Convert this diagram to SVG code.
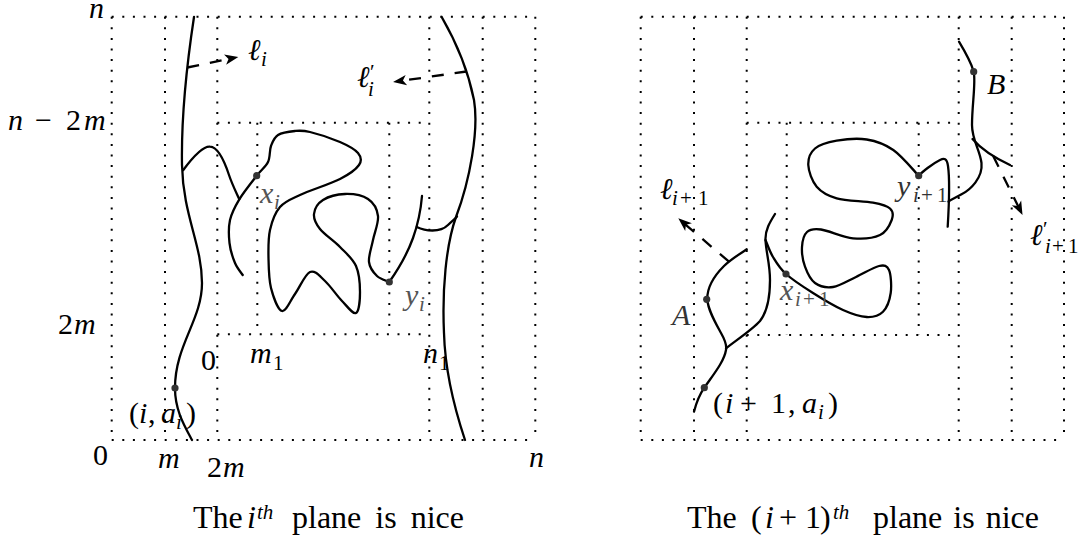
<svg xmlns="http://www.w3.org/2000/svg" width="1081" height="543" viewBox="0 0 1081 543">
<defs>
<marker id="ah" viewBox="0 0 20 20" refX="10" refY="10" markerWidth="20" markerHeight="20" markerUnits="userSpaceOnUse" orient="auto">
<path d="M15,10 L1.5,4.8 L5,10 L1.5,15.2 Z" fill="#000"/>
</marker>
</defs>
<rect width="1081" height="543" fill="#fff"/>
<g id="grid-left" fill="none" stroke="#000" stroke-width="2" stroke-dasharray="2 8.6">
<path d="M111.7,16.7 H535.3 M111.7,440 H535.3 M111.7,16.7 V440 M165,16.7 V440 M217.3,16.7 V440 M429.3,16.7 V440 M482.7,16.7 V440 M535.3,16.7 V440 M217.3,122.7 H429.3 M217.3,334.3 H429.3 M257.3,122.7 V334.3 M389.3,122.7 V334.3"/>
</g>
<g id="grid-right" fill="none" stroke="#000" stroke-width="2" stroke-dasharray="2 8.6">
<path d="M640.7,16.7 H1064 M640.7,440 H1064 M640.7,16.7 V440 M694,16.7 V440 M746.7,16.7 V440 M958.7,16.7 V440 M1011.7,16.7 V440 M1064,16.7 V440 M746.7,122.7 H958.7 M746.7,335 H958.7 M786.7,122.7 V335 M918.7,122.7 V335"/>
</g>
<g id="connectors" fill="none" stroke="#000" stroke-width="2.3" stroke-linecap="round" stroke-linejoin="round">
<path id="L1" d="M194,17 C189,50 181,110 182,165 C183,215 202,245 202,283 C202,320 175,345 175,388 C175,410 184,425 192,440"/>
<path id="R1" d="M441.7,17 C455,40 468,70 474,100 C479,130 470,180 456,217 C446,245 442,290 444,333 C445,370 455,410 465,440"/>
<path id="B1" d="M183.3,170 C190,161 202,146 210,146.7 C218,147 224,160 229,175 C232,184 236,192 239.3,199.3"/>
<path id="Cx" d="M242.7,275 C241.4,273 237.2,268.3 235,263 C232.8,257.7 230.3,250.2 229.5,243 C228.7,235.8 228.4,227.3 230,220 C231.6,212.7 234.9,206.7 239.3,199.3 C243.8,191.9 251.9,181.9 256.7,175.7 C261.5,169.5 265.6,167 268,162 C270.4,157 269.3,150.5 271,146 C272.7,141.5 274,137.5 278,135 C282,132.5 289.7,131.5 295,131 C300.3,130.5 302.5,130.2 310,132 C317.5,133.8 332,138.5 340,142 C348,145.5 354.8,149.2 358,153 C361.2,156.8 362,160.7 359,165 C356,169.3 349.8,174 340,179 C330.2,184 310,190.3 300,195 C290,199.7 285,201.2 280,207 C275,212.8 271.9,221.5 270,230 C268.1,238.5 268.3,248.3 268.5,258 C268.7,267.7 268.8,279.2 271,288 C273.3,296.8 278,310 282,311 C286,312 290.3,300.5 295,294 C299.7,287.5 305,274.2 310,272 C315,269.8 319.7,276.2 325,281 C330.3,285.8 336.8,295.7 342,301 C347.2,306.3 353,314.5 356,313 C359,311.5 360,299.8 360,292 C360,284.2 359.3,273.5 356,266 C352.7,258.5 346,253.2 340,247 C334,240.8 324.3,234.5 320,229 C315.7,223.5 313.5,218.8 314,214 C314.5,209.2 317.8,203.3 323,200 C328.2,196.7 337.5,194.2 345,194 C352.5,193.8 362.5,195.3 368,199 C373.5,202.7 377.2,209.2 378,216 C378.8,222.8 374.5,232.3 373,240 C371.5,247.7 368.3,256 369,262 C369.7,268 373.6,272.7 377,276 C380.4,279.3 387.3,281 389.3,282"/>
<path id="Yi" d="M389.3,282 C397,271 408,252 413,238 C418,224 421,208 422,196"/>
<path id="Yb" d="M416.7,227 C425,231 440,233 448,225 C452,221 455,219 457,216.5"/>
<path id="A" d="M746.7,249.3 C738,255 730,260 724,266 C715,275 707,287 707.3,299.3 C708,310 715,322 721,333 C725,340 727,345 726,350 C724,362 713,375 704.3,387.7 C700,394 696,404 694,411.7"/>
<path id="T" d="M775,214 C770,222 765,230 765.5,240 C766,252 770,264 770,280 C770,298 767,312 760,321 C753,329 738,339 726,348.3"/>
<path id="Sn" d="M765.5,240 C766.75,242.83 769.58,251.33 773,257 C776.42,262.67 779.33,268 786,274 C792.67,280 803.5,287 813,293 C822.5,299 834.05,306 843,310 C851.95,314 860.03,316.72 866.7,317 C873.37,317.28 879,315.7 883,311.7 C887,307.7 889.7,299.95 890.7,293 C891.7,286.05 890.95,274.5 889,270 C887.05,265.5 884.5,264.83 879,266 C873.5,267.17 863.67,273.5 856,277 C848.33,280.5 839.83,286 833,287 C826.17,288 819.67,286.38 815,283 C810.33,279.62 807.17,272.7 805,266.7 C802.83,260.7 801.67,252.78 802,247 C802.33,241.22 803.83,234.92 807,232 C810.17,229.08 813.33,228.45 821,229.5 C828.67,230.55 843.17,237.38 853,238.3 C862.83,239.22 873.55,238.05 880,235 C886.45,231.95 890.03,224.42 891.7,220 C893.37,215.58 893.12,211.38 890,208.5 C886.88,205.62 881.88,204.4 873,202.7 C864.12,201 846.08,200.97 836.7,198.3 C827.32,195.63 821.43,192.25 816.7,186.7 C811.97,181.15 808.58,171.37 808.3,165 C808.02,158.63 810.27,152.55 815,148.5 C819.73,144.45 828.08,142.2 836.7,140.7 C845.32,139.2 857.27,137.95 866.7,139.5 C876.13,141.05 884.63,143.97 893.3,150 C901.97,156.03 914.47,171.42 918.7,175.7"/>
<path id="Yt" d="M918.7,175.7 C922,172 932,164 940,160 C944,158 947,158 948,166 C950,180 949,205 947.7,226.7"/>
<path id="Bc" d="M959,41.7 C964,50 971,62 973.7,71.7 C976,82 972,105 972,125 C972,140 980,150 981.5,163 C983,178 970,190 962,194 C957,197 952,199 948.5,201.5"/>
<path id="Bb" d="M972.5,139 C982,150 995,158 1010,165"/>
<g stroke-linecap="butt" stroke-dasharray="12 11">
<path id="li" d="M187.3,67.5 L233.4,58" marker-end="url(#ah)"/>
<path id="lpi" d="M466.5,71.5 L398,81.3" marker-end="url(#ah)"/>
<path id="li1" d="M729,261.7 L682.1,221.6" marker-end="url(#ah)"/>
<path id="lpi1" d="M993.2,156.1 L1020.3,210.5" marker-end="url(#ah)"/>
</g>
</g>
<g id="node-xi"><circle fill="#333" cx="256.7" cy="175.7" r="3.6"/><text font-family="Liberation Serif" font-size="30" font-style="italic" fill="#555"><tspan x="260" y="203">x</tspan><tspan font-size="21" x="274" y="209">i</tspan></text></g>
<g id="node-yi"><circle fill="#333" cx="389.3" cy="282" r="3.6"/><text font-family="Liberation Serif" font-size="30" font-style="italic" fill="#555"><tspan x="405" y="305">y</tspan><tspan font-size="21" x="419" y="311">i</tspan></text></g>
<g id="node-iai"><circle fill="#333" cx="175" cy="388" r="3.6"/><text font-family="Liberation Serif" font-size="30"><tspan x="129" y="423">(</tspan><tspan font-style="italic" x="139" y="423">i</tspan><tspan x="148" y="423">,</tspan><tspan font-style="italic" x="161" y="423">a</tspan><tspan font-style="italic" font-size="21" x="176" y="429">i</tspan><tspan x="186" y="423">)</tspan></text></g>
<g id="node-A"><circle fill="#333" cx="706.7" cy="299.3" r="3.6"/><text font-family="Liberation Serif" font-size="30" font-style="italic" fill="#333" x="672" y="325">A</text></g>
<g id="node-i1ai"><circle fill="#333" cx="704.3" cy="387.7" r="3.6"/><text font-family="Liberation Serif" font-size="30"><tspan x="713" y="413">(</tspan><tspan font-style="italic" x="725" y="413">i</tspan><tspan x="740" y="413">+</tspan><tspan x="771" y="413">1</tspan><tspan x="788" y="413">,</tspan><tspan font-style="italic" x="802" y="413">a</tspan><tspan font-style="italic" font-size="21" x="818" y="419">i</tspan><tspan x="828" y="413">)</tspan></text></g>
<g id="node-xi1"><circle fill="#333" cx="786" cy="274" r="3.6"/><text font-family="Liberation Serif" font-size="30" fill="#555"><tspan font-style="italic" x="780" y="300">x</tspan><tspan font-style="italic" font-size="21" x="795" y="306">i</tspan><tspan font-size="21" x="803" y="306">+</tspan><tspan font-size="21" x="819" y="306">1</tspan></text></g>
<g id="node-yi1"><circle fill="#333" cx="918.7" cy="175.7" r="3.6"/><text font-family="Liberation Serif" font-size="30" fill="#333"><tspan font-style="italic" x="897" y="196">y</tspan><tspan font-style="italic" font-size="21" x="913" y="202">i</tspan><tspan font-size="21" x="921" y="202">+</tspan><tspan font-size="21" x="937" y="202">1</tspan></text></g>
<g id="node-B"><circle fill="#333" cx="973.7" cy="71.7" r="3.6"/><text font-family="Liberation Serif" font-size="30" font-style="italic" x="987" y="94">B</text></g>
<g id="labels">
<text font-family="Liberation Serif" font-size="30" font-style="italic"><tspan x="248" y="60">&#8467;</tspan><tspan font-size="21" x="261" y="66">i</tspan></text>
<text font-family="Liberation Serif" font-size="30"><tspan font-style="italic" x="357" y="87">&#8467;</tspan><tspan font-size="21" x="370" y="79">&#8242;</tspan><tspan font-style="italic" font-size="21" x="368" y="96">i</tspan></text>
<text font-family="Liberation Serif" font-size="30"><tspan font-style="italic" x="660" y="199">&#8467;</tspan><tspan font-style="italic" font-size="21" x="672" y="205">i</tspan><tspan font-size="21" x="680" y="205">+</tspan><tspan font-size="21" x="698" y="205">1</tspan></text>
<text font-family="Liberation Serif" font-size="30"><tspan font-style="italic" x="1030" y="245">&#8467;</tspan><tspan font-size="21" x="1043" y="236">&#8242;</tspan><tspan font-style="italic" font-size="21" x="1045" y="253">i</tspan><tspan font-size="21" x="1052" y="253">+</tspan><tspan font-size="21" x="1068" y="253">1</tspan></text>
<text font-family="Liberation Serif" font-size="30" font-style="italic" x="89" y="18">n</text>
<text font-family="Liberation Serif" font-size="30"><tspan font-style="italic" x="8" y="130">n</tspan><tspan x="35" y="130">&#8722;</tspan><tspan x="66" y="130">2</tspan><tspan font-style="italic" x="84" y="130">m</tspan></text>
<text font-family="Liberation Serif" font-size="30"><tspan x="58" y="334">2</tspan><tspan font-style="italic" x="74" y="334">m</tspan></text>
<text font-family="Liberation Serif" font-size="30" x="93" y="465">0</text>
<text font-family="Liberation Serif" font-size="30" font-style="italic" x="158" y="468">m</text>
<text font-family="Liberation Serif" font-size="30"><tspan x="207" y="477">2</tspan><tspan font-style="italic" x="223" y="477">m</tspan></text>
<text font-family="Liberation Serif" font-size="30" font-style="italic" x="529" y="467">n</text>
<text font-family="Liberation Serif" font-size="30" x="201" y="370">0</text>
<text font-family="Liberation Serif" font-size="30"><tspan font-style="italic" x="250" y="363">m</tspan><tspan font-size="21" x="273" y="370">1</tspan></text>
<text font-family="Liberation Serif" font-size="30"><tspan font-style="italic" x="423" y="363">n</tspan><tspan font-size="21" x="439" y="370">1</tspan></text>
</g>
<g id="captions">
<text font-family="Liberation Serif" font-size="32"><tspan x="193" y="528">The</tspan><tspan font-style="italic" x="247" y="528">i</tspan><tspan font-style="italic" font-size="21" x="257" y="519">th</tspan><tspan x="292" y="528" word-spacing="6">plane is nice</tspan></text>
<text font-family="Liberation Serif" font-size="32"><tspan x="687" y="528">The</tspan><tspan x="751" y="528">(</tspan><tspan font-style="italic" x="765" y="528">i</tspan><tspan x="779" y="528">+</tspan><tspan x="805" y="528">1</tspan><tspan x="820" y="528">)</tspan><tspan font-style="italic" font-size="21" x="833" y="519">th</tspan><tspan x="873" y="528" word-spacing="3">plane is nice</tspan></text>
</g>
</svg>
